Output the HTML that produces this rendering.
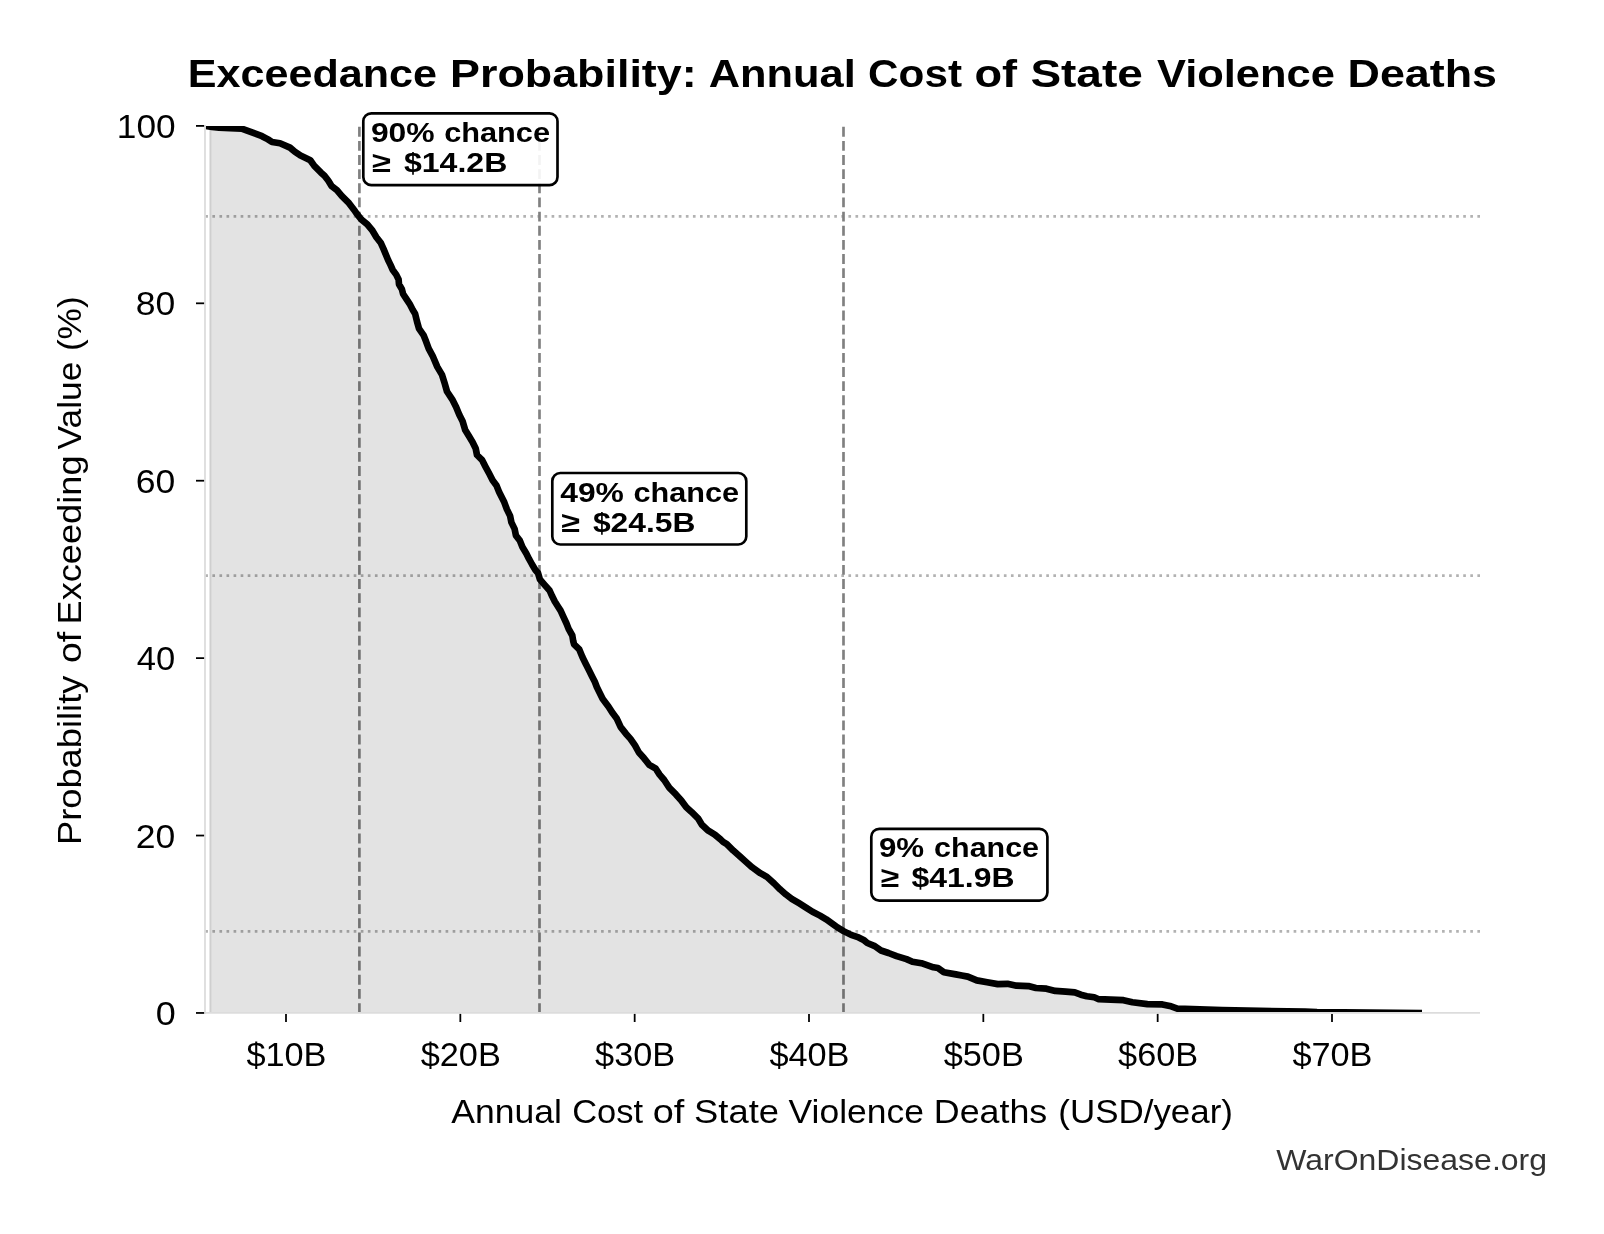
<!DOCTYPE html><html><head><meta charset="utf-8"><style>html,body{margin:0;padding:0;background:#fff;overflow:hidden}svg{display:block;will-change:transform}text{font-family:"Liberation Sans", sans-serif}</style></head><body>
<svg width="1604" height="1234" viewBox="0 0 1604 1234">
<rect width="1604" height="1234" fill="#fff"/>
<defs><clipPath id="ax"><rect x="205" y="125.9" width="1275" height="887.05"/></clipPath></defs>
<g clip-path="url(#ax)">
<line x1="205" y1="216.4" x2="1480" y2="216.4" stroke="#000" stroke-opacity="0.3" stroke-width="2.667" stroke-dasharray="2.667 4.4" stroke-dashoffset="-0.3"/>
<line x1="205" y1="575.6" x2="1480" y2="575.6" stroke="#000" stroke-opacity="0.3" stroke-width="2.667" stroke-dasharray="2.667 4.4" stroke-dashoffset="-0.3"/>
<line x1="205" y1="931.4" x2="1480" y2="931.4" stroke="#000" stroke-opacity="0.3" stroke-width="2.667" stroke-dasharray="2.667 4.4" stroke-dashoffset="-0.3"/>
<line x1="359.4" y1="1013" x2="359.4" y2="125.9" stroke="#808080" stroke-width="2.667" stroke-dasharray="9.867 4.267"/>
<line x1="539.5" y1="1013" x2="539.5" y2="125.9" stroke="#808080" stroke-width="2.667" stroke-dasharray="9.867 4.267"/>
<line x1="843.5" y1="1013" x2="843.5" y2="125.9" stroke="#808080" stroke-width="2.667" stroke-dasharray="9.867 4.267"/>
<path d="M210.2,1013 L210.2,126.9 L212,126.9 L219,127.6 L230,128.2 L241.6,128.6 L256,133.8 L262,136.2 L268,139.4 L272,142 L280,143.2 L290,147.6 L294.9,151.8 L300.5,155.6 L306.2,158.3 L310.3,160.3 L314.3,165.9 L320.8,172.4 L324.5,175.7 L328.2,180.5 L331.7,186.2 L336.9,190.2 L341.7,195.9 L349,203.2 L355.1,211.3 L356.9,213.9 L361.5,219.7 L367.3,224.3 L372.5,230.7 L376.4,237.2 L380.9,243.1 L383.5,248.9 L388.1,260 L390.5,264.9 L392.6,269.7 L396.2,274.6 L398.6,279.5 L399,284.3 L401.9,289.2 L403.1,294 L406.3,298.9 L409.6,303.8 L412.8,310 L415.1,313.7 L417,321.5 L419,328.6 L423.5,335.1 L426.1,341.6 L428.7,348.7 L432.6,355.8 L437.3,366.9 L441.9,374.6 L444.4,382.4 L447,391.5 L452.2,399.3 L456.1,407 L459.3,414.8 L462.6,421.3 L465.2,430 L468.6,435.6 L472.5,442 L475.7,448.5 L477,455 L482.2,460.2 L485.5,466.7 L489.3,473.8 L492.6,480.3 L496.5,485.5 L499.1,491.9 L504.3,502.3 L506.9,509.4 L510.1,515.9 L511.4,522.4 L514.6,528.9 L515.9,535.4 L519.8,540.6 L522.4,547 L526.3,553.5 L528.9,558.7 L532.1,564.5 L535.4,570 L538,573 L539.9,579.4 L544.4,584.6 L549.6,590.5 L552.2,596.3 L554.8,601.5 L558.1,606.7 L560.6,610.6 L563.2,616.4 L566.5,623.5 L568.6,628.9 L572.3,635.5 L573.2,641 L574.1,644.3 L579.3,649.4 L582.5,657.2 L585.7,663.7 L589,670.2 L592.2,676.7 L594.8,681.8 L596.8,687 L600,693.5 L602.6,698.7 L606.5,703.9 L608.4,706.5 L613,713.6 L616.9,718.8 L620.7,727.2 L625.9,733.7 L630.5,738.9 L635,745.4 L638.9,752.5 L644.1,758.3 L649.3,764.8 L655.8,768.7 L659.6,774.6 L664.2,780 L669.4,787.9 L675.9,794.4 L681.1,800.2 L686.3,807.3 L691.5,811.9 L698,818.3 L701.9,824.8 L708.3,830.7 L714.8,834.6 L720.5,839.4 L723.1,841.9 L726.8,844.1 L733.3,850.6 L739.2,855.7 L745.7,861.6 L752.3,867.4 L760.3,873.2 L766.9,876.9 L774.2,883.5 L780,889.3 L785.9,894.4 L791.7,898.8 L799,903.2 L806,907.6 L812.5,911.8 L820,915.6 L826.2,919.3 L832.4,923.7 L837.4,927.4 L843.6,931.1 L851.1,934.9 L858.6,937.4 L863.6,939.9 L867.3,943 L874.8,946.1 L881,950.5 L888.5,953 L896.6,956.1 L906.5,959.1 L912.4,961.7 L921.4,963.2 L933.4,967.3 L937.9,968 L943.9,972.2 L955.8,974.4 L961.8,975.5 L967.8,976.6 L976.8,980.4 L987.2,982.3 L997.7,984.1 L1007.5,983.8 L1016.5,985.7 L1028.4,986.1 L1035.9,988 L1046.4,988.7 L1055.3,990.9 L1065.8,991.7 L1074.8,992.4 L1080.8,994.7 L1086.8,996.2 L1094.2,997.3 L1098.7,999.2 L1110.7,999.6 L1123.5,1000.2 L1132.4,1002.2 L1147.4,1004.1 L1162.4,1004.4 L1169.8,1005.9 L1177.3,1008.6 L1184.8,1008.9 L1207.2,1009.6 L1222.2,1010.1 L1260,1010.9 L1305,1011.7 L1317,1012.2 L1422,1013 L1420,1013 Z" fill="#000" fill-opacity="0.11" stroke="#000" stroke-opacity="0.11" stroke-width="2.22"/>
<path d="M206,125.9 L212,126.9 L219,127.6 L230,128.2 L241.6,128.6 L256,133.8 L262,136.2 L268,139.4 L272,142 L280,143.2 L290,147.6 L294.9,151.8 L300.5,155.6 L306.2,158.3 L310.3,160.3 L314.3,165.9 L320.8,172.4 L324.5,175.7 L328.2,180.5 L331.7,186.2 L336.9,190.2 L341.7,195.9 L349,203.2 L355.1,211.3 L356.9,213.9 L361.5,219.7 L367.3,224.3 L372.5,230.7 L376.4,237.2 L380.9,243.1 L383.5,248.9 L388.1,260 L390.5,264.9 L392.6,269.7 L396.2,274.6 L398.6,279.5 L399,284.3 L401.9,289.2 L403.1,294 L406.3,298.9 L409.6,303.8 L412.8,310 L415.1,313.7 L417,321.5 L419,328.6 L423.5,335.1 L426.1,341.6 L428.7,348.7 L432.6,355.8 L437.3,366.9 L441.9,374.6 L444.4,382.4 L447,391.5 L452.2,399.3 L456.1,407 L459.3,414.8 L462.6,421.3 L465.2,430 L468.6,435.6 L472.5,442 L475.7,448.5 L477,455 L482.2,460.2 L485.5,466.7 L489.3,473.8 L492.6,480.3 L496.5,485.5 L499.1,491.9 L504.3,502.3 L506.9,509.4 L510.1,515.9 L511.4,522.4 L514.6,528.9 L515.9,535.4 L519.8,540.6 L522.4,547 L526.3,553.5 L528.9,558.7 L532.1,564.5 L535.4,570 L538,573 L539.9,579.4 L544.4,584.6 L549.6,590.5 L552.2,596.3 L554.8,601.5 L558.1,606.7 L560.6,610.6 L563.2,616.4 L566.5,623.5 L568.6,628.9 L572.3,635.5 L573.2,641 L574.1,644.3 L579.3,649.4 L582.5,657.2 L585.7,663.7 L589,670.2 L592.2,676.7 L594.8,681.8 L596.8,687 L600,693.5 L602.6,698.7 L606.5,703.9 L608.4,706.5 L613,713.6 L616.9,718.8 L620.7,727.2 L625.9,733.7 L630.5,738.9 L635,745.4 L638.9,752.5 L644.1,758.3 L649.3,764.8 L655.8,768.7 L659.6,774.6 L664.2,780 L669.4,787.9 L675.9,794.4 L681.1,800.2 L686.3,807.3 L691.5,811.9 L698,818.3 L701.9,824.8 L708.3,830.7 L714.8,834.6 L720.5,839.4 L723.1,841.9 L726.8,844.1 L733.3,850.6 L739.2,855.7 L745.7,861.6 L752.3,867.4 L760.3,873.2 L766.9,876.9 L774.2,883.5 L780,889.3 L785.9,894.4 L791.7,898.8 L799,903.2 L806,907.6 L812.5,911.8 L820,915.6 L826.2,919.3 L832.4,923.7 L837.4,927.4 L843.6,931.1 L851.1,934.9 L858.6,937.4 L863.6,939.9 L867.3,943 L874.8,946.1 L881,950.5 L888.5,953 L896.6,956.1 L906.5,959.1 L912.4,961.7 L921.4,963.2 L933.4,967.3 L937.9,968 L943.9,972.2 L955.8,974.4 L961.8,975.5 L967.8,976.6 L976.8,980.4 L987.2,982.3 L997.7,984.1 L1007.5,983.8 L1016.5,985.7 L1028.4,986.1 L1035.9,988 L1046.4,988.7 L1055.3,990.9 L1065.8,991.7 L1074.8,992.4 L1080.8,994.7 L1086.8,996.2 L1094.2,997.3 L1098.7,999.2 L1110.7,999.6 L1123.5,1000.2 L1132.4,1002.2 L1147.4,1004.1 L1162.4,1004.4 L1169.8,1005.9 L1177.3,1008.6 L1184.8,1008.9 L1207.2,1009.6 L1222.2,1010.1 L1260,1010.9 L1305,1011.7 L1317,1012.2 L1422,1013" fill="none" stroke="#000" stroke-width="6.67" stroke-linejoin="round" stroke-linecap="butt"/>
</g>
<line x1="205" y1="125" x2="205" y2="1013.9" stroke="#dcdcdc" stroke-width="1.78"/>
<line x1="204.1" y1="1012.95" x2="1480" y2="1012.95" stroke="#dcdcdc" stroke-width="1.78"/>
<line x1="196" y1="1012.95" x2="204.1" y2="1012.95" stroke="#000" stroke-width="1.78"/>
<line x1="196" y1="835.54" x2="204.1" y2="835.54" stroke="#000" stroke-width="1.78"/>
<line x1="196" y1="658.13" x2="204.1" y2="658.13" stroke="#000" stroke-width="1.78"/>
<line x1="196" y1="480.72" x2="204.1" y2="480.72" stroke="#000" stroke-width="1.78"/>
<line x1="196" y1="303.31" x2="204.1" y2="303.31" stroke="#000" stroke-width="1.78"/>
<line x1="196" y1="125.90" x2="204.1" y2="125.90" stroke="#000" stroke-width="1.78"/>
<line x1="286.00" y1="1013.9" x2="286.00" y2="1022" stroke="#000" stroke-width="1.78"/>
<line x1="460.33" y1="1013.9" x2="460.33" y2="1022" stroke="#000" stroke-width="1.78"/>
<line x1="634.67" y1="1013.9" x2="634.67" y2="1022" stroke="#000" stroke-width="1.78"/>
<line x1="809.00" y1="1013.9" x2="809.00" y2="1022" stroke="#000" stroke-width="1.78"/>
<line x1="983.33" y1="1013.9" x2="983.33" y2="1022" stroke="#000" stroke-width="1.78"/>
<line x1="1157.66" y1="1013.9" x2="1157.66" y2="1022" stroke="#000" stroke-width="1.78"/>
<line x1="1332.00" y1="1013.9" x2="1332.00" y2="1022" stroke="#000" stroke-width="1.78"/>
<rect x="363.3" y="113.3" width="194.2" height="71.8" rx="8" ry="8" fill="#fff" fill-opacity="0.9" stroke="#000" stroke-width="2.67"/>
<rect x="552.3" y="473.0" width="194.0" height="71.5" rx="8" ry="8" fill="#fff" fill-opacity="0.9" stroke="#000" stroke-width="2.67"/>
<rect x="871.3" y="828.8" width="176.1" height="71.8" rx="8" ry="8" fill="#fff" fill-opacity="0.9" stroke="#000" stroke-width="2.67"/>
<text x="0" y="86.80" font-size="39.01162790697675" font-weight="bold" transform="matrix(1.10542,0,0,1,187.735,0)">Exceedance</text>
<text x="0" y="86.80" font-size="39.01162790697675" font-weight="bold" transform="matrix(1.14978,0,0,1,450.038,0)">Probability:</text>
<text x="0" y="86.80" font-size="39.01162790697675" font-weight="bold" transform="matrix(1.11338,0,0,1,708.647,0)">Annual</text>
<text x="0" y="86.80" font-size="39.01162790697675" font-weight="bold" transform="matrix(1.08358,0,0,1,868.062,0)">Cost</text>
<text x="0" y="86.80" font-size="39.01162790697675" font-weight="bold" transform="matrix(1.15732,0,0,1,974.519,0)">of</text>
<text x="0" y="86.80" font-size="39.01162790697675" font-weight="bold" transform="matrix(1.17851,0,0,1,1030.403,0)">State</text>
<text x="0" y="86.80" font-size="39.01162790697675" font-weight="bold" transform="matrix(1.11392,0,0,1,1157.000,0)">Violence</text>
<text x="0" y="86.80" font-size="39.01162790697675" font-weight="bold" transform="matrix(1.14978,0,0,1,1347.543,0)">Deaths</text>
<text x="0" y="1122.80" font-size="33.139534883720934" transform="matrix(1.07228,0,0,1,451.372,0)">Annual</text>
<text x="0" y="1122.80" font-size="33.139534883720934" transform="matrix(1.03951,0,0,1,572.131,0)">Cost</text>
<text x="0" y="1122.80" font-size="33.139534883720934" transform="matrix(1.14362,0,0,1,652.766,0)">of</text>
<text x="0" y="1122.80" font-size="33.139534883720934" transform="matrix(1.09756,0,0,1,694.077,0)">State</text>
<text x="0" y="1122.80" font-size="33.139534883720934" transform="matrix(1.07042,0,0,1,788.593,0)">Violence</text>
<text x="0" y="1122.80" font-size="33.139534883720934" transform="matrix(1.08031,0,0,1,933.796,0)">Deaths</text>
<text x="0" y="1122.80" font-size="33.139534883720934" transform="matrix(1.05471,0,0,1,1058.264,0)">(USD/year)</text>
<text x="0" y="0" font-size="33.139534883720934" transform="translate(80.90,0) rotate(-90) matrix(1.09546,0,0,1,-845.062,0)">Probability</text>
<text x="0" y="0" font-size="33.139534883720934" transform="translate(80.90,0) rotate(-90) matrix(1.12783,0,0,1,-663.024,0)">of</text>
<text x="0" y="0" font-size="33.139534883720934" transform="translate(80.90,0) rotate(-90) matrix(1.09268,0,0,1,-624.461,0)">Exceeding</text>
<text x="0" y="0" font-size="33.139534883720934" transform="translate(80.90,0) rotate(-90) matrix(1.06544,0,0,1,-449.407,0)">Value</text>
<text x="0" y="0" font-size="33.139534883720934" transform="translate(80.90,0) rotate(-90) matrix(1.06293,0,0,1,-351.105,0)">(%)</text>
<text x="0" y="1170.50" font-size="28.880813953488374" fill="#333" transform="matrix(1.10827,0,0,1,1276.179,0)">WarOnDisease.org</text>
<text x="0" y="138.10" font-size="33.43023255813954" transform="matrix(1.05590,0,0,1,116.825,0)">100</text>
<text x="0" y="315.51" font-size="33.43023255813954" transform="matrix(1.06324,0,0,1,135.708,0)">80</text>
<text x="0" y="492.92" font-size="33.43023255813954" transform="matrix(1.06324,0,0,1,135.708,0)">60</text>
<text x="0" y="670.33" font-size="33.43023255813954" transform="matrix(1.03371,0,0,1,136.780,0)">40</text>
<text x="0" y="847.74" font-size="33.43023255813954" transform="matrix(1.06324,0,0,1,135.708,0)">20</text>
<text x="0" y="1025.15" font-size="33.43023255813954" transform="matrix(1.07599,0,0,1,155.869,0)">0</text>
<text x="0" y="1066.00" font-size="33.43023255813954" transform="matrix(1.02632,0,0,1,246.403,0)">$10B</text>
<text x="0" y="1066.00" font-size="33.43023255813954" transform="matrix(1.02632,0,0,1,420.717,0)">$20B</text>
<text x="0" y="1066.00" font-size="33.43023255813954" transform="matrix(1.02632,0,0,1,595.058,0)">$30B</text>
<text x="0" y="1066.00" font-size="33.43023255813954" transform="matrix(1.02632,0,0,1,769.399,0)">$40B</text>
<text x="0" y="1066.00" font-size="33.43023255813954" transform="matrix(1.02632,0,0,1,943.713,0)">$50B</text>
<text x="0" y="1066.00" font-size="33.43023255813954" transform="matrix(1.02632,0,0,1,1118.054,0)">$60B</text>
<text x="0" y="1066.00" font-size="33.43023255813954" transform="matrix(1.02632,0,0,1,1292.395,0)">$70B</text>
<text x="0" y="141.70" font-size="28.48837209302326" font-weight="bold" transform="matrix(1.12015,0,0,1,370.880,0)">90%</text>
<text x="0" y="141.70" font-size="28.48837209302326" font-weight="bold" transform="matrix(1.07918,0,0,1,444.142,0)">chance</text>
<text x="0" y="171.80" font-size="28.48837209302326" font-weight="bold" transform="matrix(1.20862,0,0,1,372.035,0)">&#8805;</text>
<text x="0" y="171.80" font-size="28.48837209302326" font-weight="bold" transform="matrix(1.12556,0,0,1,403.937,0)">$14.2B</text>
<text x="0" y="502.00" font-size="28.48837209302326" font-weight="bold" transform="matrix(1.11789,0,0,1,560.174,0)">49%</text>
<text x="0" y="502.00" font-size="28.48837209302326" font-weight="bold" transform="matrix(1.07503,0,0,1,633.477,0)">chance</text>
<text x="0" y="532.20" font-size="28.48837209302326" font-weight="bold" transform="matrix(1.19786,0,0,1,561.326,0)">&#8805;</text>
<text x="0" y="532.20" font-size="28.48837209302326" font-weight="bold" transform="matrix(1.11568,0,0,1,592.938,0)">$24.5B</text>
<text x="0" y="856.80" font-size="28.48837209302326" font-weight="bold" transform="matrix(1.09771,0,0,1,878.902,0)">9%</text>
<text x="0" y="856.80" font-size="28.48837209302326" font-weight="bold" transform="matrix(1.06880,0,0,1,934.112,0)">chance</text>
<text x="0" y="887.30" font-size="28.48837209302326" font-weight="bold" transform="matrix(1.18152,0,0,1,880.638,0)">&#8805;</text>
<text x="0" y="887.30" font-size="28.48837209302326" font-weight="bold" transform="matrix(1.12222,0,0,1,911.527,0)">$41.9B</text>
</svg></body></html>
